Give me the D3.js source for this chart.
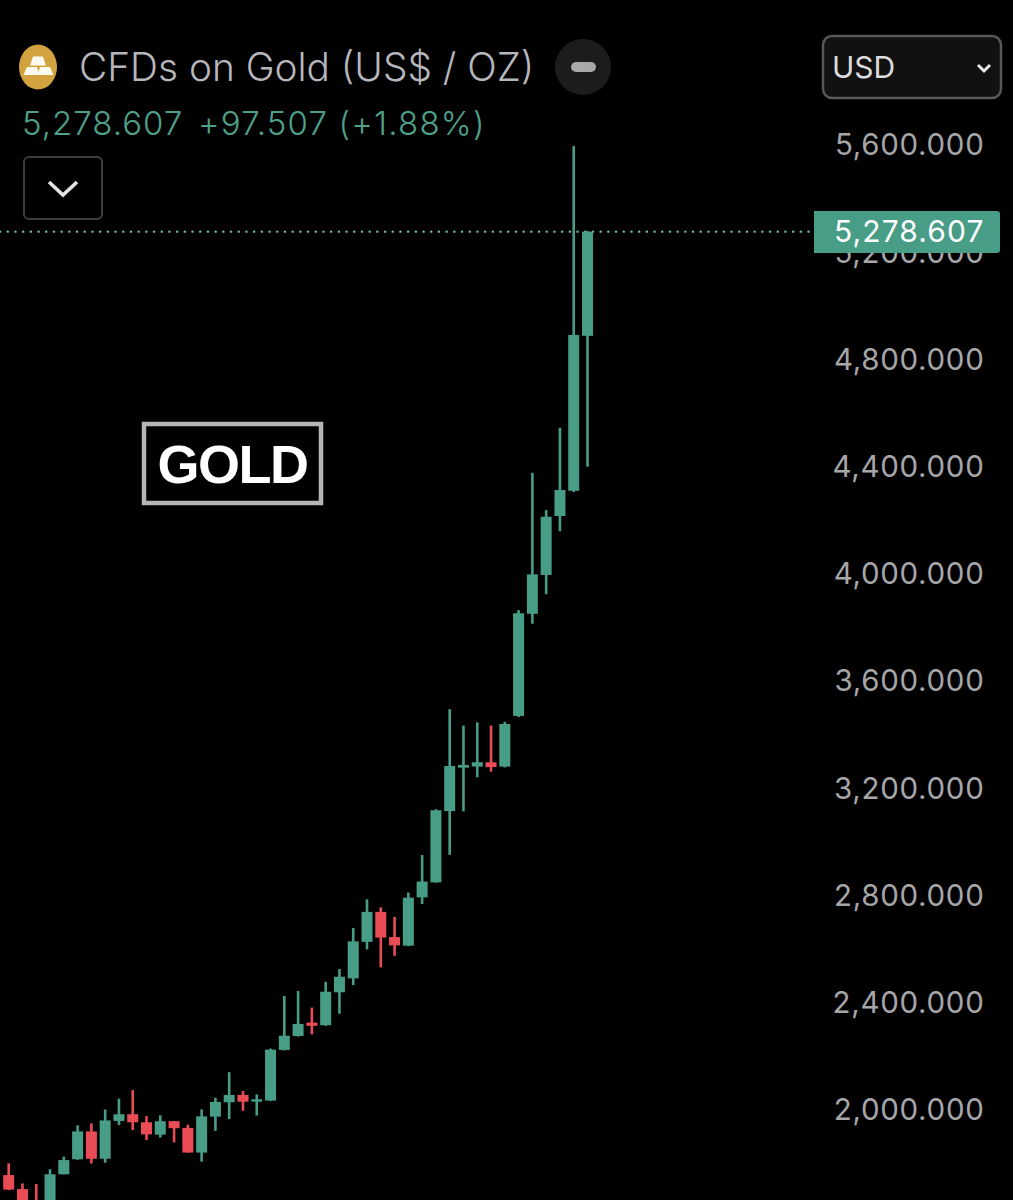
<!DOCTYPE html>
<html>
<head>
<meta charset="utf-8">
<script src="https://cdn.jsdelivr.net/npm/d3@7"></script>
<style>
  html, body { margin: 0; padding: 0; background: #000; }
  svg { display: block; }
  text { font-family: Inter, "Noto Sans", sans-serif; }
</style>
</head>
<body>
<svg id="chart" width="1013" height="1200"></svg>
<script>
// candle values, oldest first
const opens = [1759, 1707, 1650, 1620, 1762, 1818, 1922, 1820, 1961, 1986, 1956, 1910, 1960, 1935, 1843,
  1977, 2031, 2058, 2033, 2037, 2226, 2278, 2328, 2318, 2441, 2493, 2629, 2741, 2647, 2615, 2795, 2851,
  3117, 3279, 3283, 3299, 3283, 3472, 3853, 3998, 4218, 4312, 4890];
const highs = [1803, 1728, 1726, 1781, 1828, 1945, 1952, 2004, 2044, 2076, 1979, 1982, 1961, 1947, 2004,
  2048, 2143, 2073, 2060, 2231, 2427, 2446, 2384, 2480, 2528, 2681, 2788, 2758, 2722, 2813, 2953, 3124,
  3497, 3436, 3448, 3436, 3450, 3867, 4379, 4240, 4547, 5598, 5281];
const lows = [1703, 1630, 1590, 1600, 1762, 1816, 1802, 1805, 1946, 1927, 1890, 1899, 1881, 1843, 1809,
  1924, 1968, 1999, 1981, 2035, 2224, 2276, 2284, 2316, 2361, 2468, 2601, 2534, 2577, 2613, 2770, 2850,
  2954, 3116, 3243, 3264, 3280, 3468, 3816, 3926, 4161, 4307, 4402];
const closes = [1705, 1650, 1600, 1762, 1815, 1922, 1820, 1963, 1986, 1956, 1911, 1960, 1934, 1843, 1978,
  2032, 2058, 2033, 2042, 2227, 2279, 2323, 2316, 2443, 2499, 2631, 2741, 2645, 2616, 2794, 2854, 3120,
  3285, 3289, 3299, 3281, 3442, 3855, 4000, 4215, 4315, 4893, 5278.607];

const priceTicks = [2000, 2400, 2800, 3200, 3600, 4000, 4400, 4800, 5200, 5600];
const lastPrice = 5278.607;
const titleText = "CFDs on Gold (US$ / OZ)";
const changeText = "5,278.607";
const changeText2 = "+97.507 (+1.88%)";

const GREEN = "#479d86", RED = "#ea4c56";

const svg = d3.select("#chart");
svg.append("rect").attr("width", 1013).attr("height", 1200).attr("fill", "#000");

const x = d3.scaleLinear().domain([0, opens.length - 1]).range([8.7, 587.5]);
const y = d3.scaleLinear().domain([2000, 5600]).range([1110.5, 145.5]);

// price axis, the labels sit a little above their true position like in the app
const axis = d3.axisRight(y).tickValues(priceTicks).tickSize(0).tickFormat(d3.format(",.3f"));
const axisG = svg.append("g").attr("transform", "translate(984.5,0)").call(axis);
axisG.select(".domain").remove();
axisG.selectAll("text")
  .attr("x", 0).attr("dy", "0.35em")
  .attr("transform", "translate(0,-1)")
  .attr("text-anchor", "end")
  .attr("fill", "#a6a6a9")
  .style("font-family", "Inter, sans-serif")
  .style("font-size", "29.5px")
  .style("letter-spacing", "0.7px");

// dotted last price line
svg.append("line")
  .attr("x1", 0).attr("x2", 814).attr("y1", y(lastPrice)).attr("y2", y(lastPrice))
  .attr("stroke", "#6dbba5").attr("stroke-width", 2.4).attr("stroke-linecap", "round")
  .attr("stroke-dasharray", "0.1 7.6");

// candles
const candles = svg.append("g").selectAll("g").data(opens).join("g")
  .attr("fill", (d, i) => closes[i] >= d ? GREEN : RED);
candles.append("rect")
  .attr("x", (d, i) => x(i) - 1.3)
  .attr("width", 2.6)
  .attr("y", (d, i) => y(highs[i]))
  .attr("height", (d, i) => y(lows[i]) - y(highs[i]));
candles.append("rect")
  .attr("x", (d, i) => x(i) - 5.5)
  .attr("width", 11)
  .attr("y", (d, i) => y(Math.max(d, closes[i])))
  .attr("height", (d, i) => Math.max(2, Math.abs(y(d) - y(closes[i]))));

// last price tag
svg.append("path")
  .attr("d", "M814,211H997a3,3 0 0 1 3,3V250a3,3 0 0 1 -3,3H814Z")
  .attr("fill", GREEN);
svg.append("text")
  .attr("x", 984.5).attr("y", 241.5).attr("text-anchor", "end")
  .attr("fill", "#fff").style("font-size", "30px").style("letter-spacing", "1.1px")
  .text(d3.format(",.3f")(lastPrice));

// header
const icon = svg.append("g");
icon.append("ellipse").attr("cx", 38).attr("cy", 67).attr("rx", 19).attr("ry", 22.5).attr("fill", "#d2a23f");
icon.selectAll("path").data([
  "M33,56.5H43L46,65.5H30Z",
  "M27,67H37L39.5,75H23.5Z",
  "M40,67H50L53.5,75H37.5Z"
]).join("path").attr("d", d => d).attr("fill", "#fffaf0");

svg.append("text")
  .attr("x", 79).attr("y", 81)
  .attr("fill", "#b6b7bc").style("font-size", "38.8px").style("font-weight", 300)
  .text(titleText);

svg.append("ellipse").attr("cx", 583).attr("cy", 67).attr("rx", 28).attr("ry", 28).attr("fill", "#1c1c1e");
svg.append("rect").attr("x", 571).attr("y", 62).attr("width", 25).attr("height", 10).attr("rx", 5).attr("fill", "#a9a9ab");

svg.append("text")
  .attr("x", 22).attr("y", 135)
  .attr("fill", "#4fa08a").style("font-size", "33px").style("font-weight", 300).style("letter-spacing", "1px")
  .text(changeText);
svg.append("text")
  .attr("x", 198).attr("y", 135)
  .attr("fill", "#4fa08a").style("font-size", "33px").style("font-weight", 300).style("letter-spacing", "1.2px")
  .text(changeText2);

// collapse button
svg.append("rect").attr("x", 24).attr("y", 157).attr("width", 78).attr("height", 62).attr("rx", 5)
  .attr("fill", "none").attr("stroke", "#3d3d3f").attr("stroke-width", 2);
svg.append("path").attr("d", "M49,182L63,195L77,182")
  .attr("fill", "none").attr("stroke", "#e3e3e3").attr("stroke-width", 3.6);

// currency select
svg.append("rect").attr("x", 823).attr("y", 36).attr("width", 178).attr("height", 62).attr("rx", 9)
  .attr("fill", "#111112").attr("stroke", "#58585a").attr("stroke-width", 2.5);
svg.append("text").attr("x", 832).attr("y", 78)
  .attr("fill", "#dcdcdc").style("font-size", "30px").text("USD");
svg.append("path").attr("d", "M978,65L984,71L990,65")
  .attr("fill", "none").attr("stroke", "#e8e8e8").attr("stroke-width", 3);

// GOLD label
svg.append("rect").attr("x", 144).attr("y", 424).attr("width", 177).attr("height", 79)
  .attr("fill", "#000").attr("stroke", "#b5b5b5").attr("stroke-width", 4.5);
svg.append("text")
  .attr("x", 232.5).attr("y", 483).attr("text-anchor", "middle")
  .attr("fill", "#fff")
  .style("font-family", "'Liberation Sans', sans-serif")
  .style("font-weight", 700).style("font-size", "54px").style("letter-spacing", "-1.5px")
  .text("GOLD");
</script>
</body>
</html>
